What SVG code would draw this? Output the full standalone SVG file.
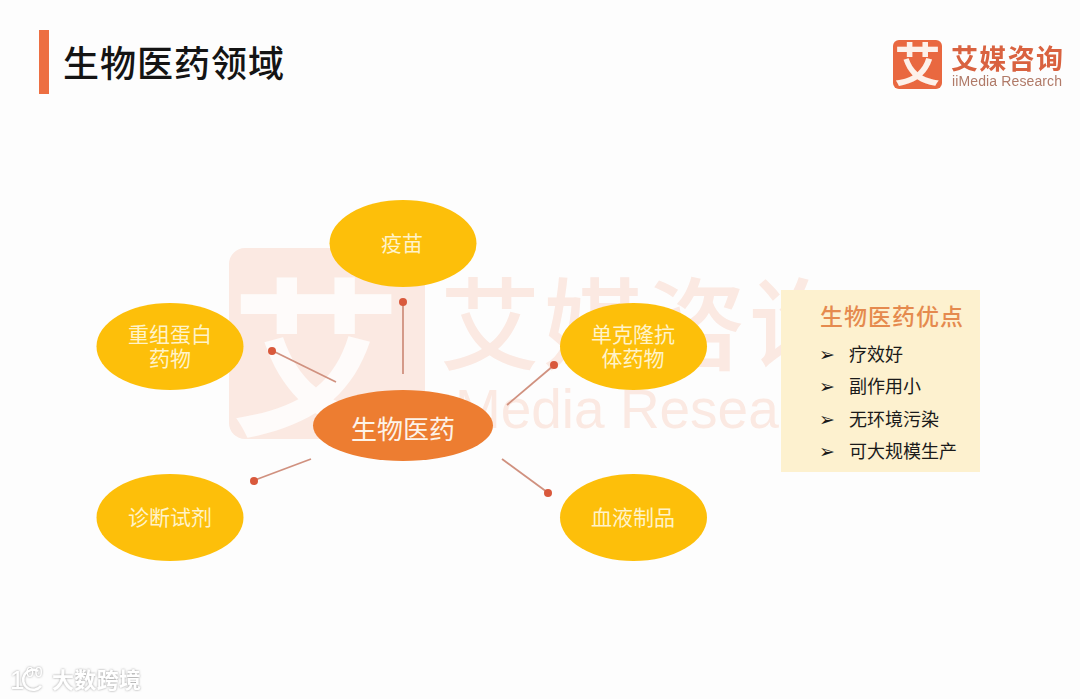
<svg xmlns="http://www.w3.org/2000/svg" width="1080" height="699" viewBox="0 0 1080 699">
<defs>
<filter id="soft" x="-5%" y="-5%" width="110%" height="110%"><feGaussianBlur stdDeviation="0.6"/></filter>
<filter id="shadow" x="-10%" y="-30%" width="120%" height="160%"><feDropShadow dx="0" dy="0" stdDeviation="1.2" flood-color="#8a8a8a" flood-opacity="0.9"/></filter>
</defs>
<style>
text{font-family:"Noto Sans CJK SC","Noto Sans",sans-serif}
.y{fill:#fdbf0a}
.nl{fill:#fff3c9;font-size:21px;text-anchor:middle}
.ln{stroke:#d0917f;stroke-width:1.800;fill:none}
.dot{fill:#d9593c}
.it{fill:#1a1a1a;font-size:18px}
.ar{fill:#1a1a1a;font-size:19px;font-family:"DejaVu Sans",sans-serif}
.wm{fill:#fbe9e2}
</style>
<rect width="1080" height="699" fill="#fdfdfd"/>
<g id="watermark" filter="url(#soft)">
<rect class="wm" x="229" y="248" width="196" height="191" rx="16"/>
<text x="316" y="423" font-size="170" font-weight="700" fill="#fefbfa" text-anchor="middle">艾</text>
<text class="wm" x="440 543 646 749" y="362" font-size="100" font-weight="500">艾媒咨询</text>
<text class="wm" x="455" y="428" style="font-family:'Liberation Sans',sans-serif" font-size="55" textLength="400" lengthAdjust="spacingAndGlyphs">Media Research</text>
</g>
<g id="title">
<rect x="39" y="30" width="10" height="64" fill="#ed6f42"/>
<text x="63" y="77" font-size="36" font-weight="500" fill="#141414" textLength="221">生物医药领域</text>
</g>
<g id="logo" filter="url(#soft)">
<rect x="893" y="40" width="49" height="49" rx="6" fill="#e9683f"/>
<text x="917.500" y="81" font-size="46" font-weight="700" fill="#fdf1ea" text-anchor="middle">艾</text>
<text x="951" y="69" font-size="27" font-weight="700" fill="#d9623f" textLength="112">艾媒咨询</text>
<text x="952" y="86" font-size="14" fill="#b07a68" style="font-family:'Liberation Sans',sans-serif" textLength="110">iiMedia Research</text>
</g>
<g id="connectors">
<line class="ln" x1="403" y1="374" x2="403" y2="303"/><circle class="dot" cx="403" cy="302" r="4"/>
<line class="ln" x1="336" y1="382" x2="273" y2="351"/><circle class="dot" cx="272" cy="351" r="4"/>
<line class="ln" x1="507" y1="405" x2="553" y2="366"/><circle class="dot" cx="554" cy="365" r="4"/>
<line class="ln" x1="311" y1="459" x2="255" y2="480"/><circle class="dot" cx="254" cy="481" r="4"/>
<line class="ln" x1="502" y1="459" x2="547" y2="492"/><circle class="dot" cx="548" cy="493" r="4"/>
</g>
<g id="node-vaccine"><ellipse class="y" cx="403" cy="243.500" rx="73.500" ry="43.500"/><text class="nl" x="402" y="251">疫苗</text></g>
<g id="node-protein"><ellipse class="y" cx="170" cy="346.500" rx="73.500" ry="43.500"/><text class="nl" x="170" y="342">重组蛋白</text><text class="nl" x="170" y="366">药物</text></g>
<g id="node-antibody"><ellipse class="y" cx="633.500" cy="346.500" rx="73.500" ry="43.500"/><text class="nl" x="633" y="342">单克隆抗</text><text class="nl" x="633" y="366">体药物</text></g>
<g id="node-diagnostic"><ellipse class="y" cx="170" cy="517.500" rx="73.500" ry="43.500"/><text class="nl" x="170" y="525">诊断试剂</text></g>
<g id="node-blood"><ellipse class="y" cx="633.500" cy="517.500" rx="73.500" ry="43.500"/><text class="nl" x="633" y="525">血液制品</text></g>
<g id="node-center"><ellipse cx="403" cy="425.500" rx="90" ry="35.500" fill="#ed7d31"/><text x="403" y="439" font-size="26" fill="#fdf3e8" text-anchor="middle">生物医药</text></g>
<g id="advantages">
<rect x="781" y="290" width="199" height="182" fill="#fdf1cf"/>
<text x="820" y="325" font-size="23" font-weight="500" fill="#e58a4e" textLength="143">生物医药优点</text>
<text class="ar" x="819" y="361">➢</text><text class="it" x="849" y="361">疗效好</text>
<text class="ar" x="819" y="393">➢</text><text class="it" x="849" y="393">副作用小</text>
<text class="ar" x="819" y="426">➢</text><text class="it" x="849" y="426">无环境污染</text>
<text class="ar" x="819" y="458">➢</text><text class="it" x="849" y="458">可大规模生产</text>
</g>
<g id="footer" filter="url(#shadow)" fill="#fff">
<path d="M38 671a10 10 0 1 0 3 15" fill="none" stroke="#fff" stroke-width="2.500"/>
<text x="10" y="689" style="font-family:'Liberation Sans',sans-serif" fill="#fff"><tspan font-size="26">1</tspan><tspan x="26" y="677" font-size="14" letter-spacing="1">00</tspan></text>
<text x="52" y="688" font-size="22" font-weight="700" fill="#fff" textLength="89">大数跨境</text>
</g>
</svg>
